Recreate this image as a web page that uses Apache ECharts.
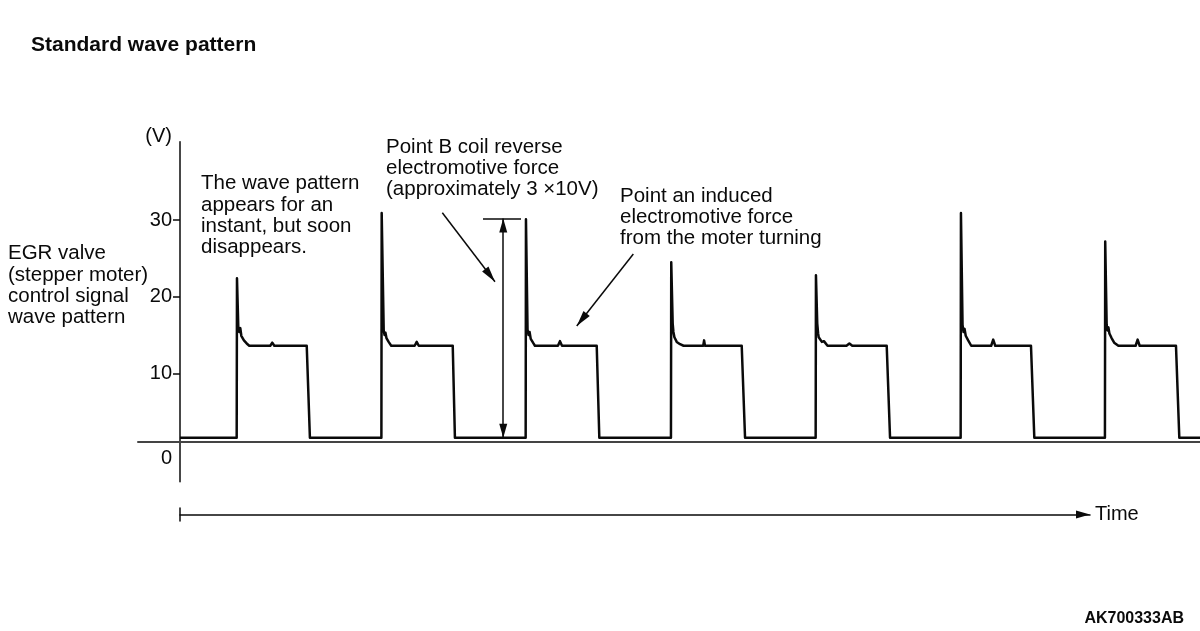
<!DOCTYPE html>
<html>
<head>
<meta charset="utf-8">
<title>Standard wave pattern</title>
<script src="https://cdn.jsdelivr.net/npm/echarts@6/dist/echarts.min.js"></script>
<style>
  html, body { margin: 0; padding: 0; background: #fff; }
  #chart { width: 1200px; height: 631px; }
</style>
</head>
<body>
<div id="chart"></div>
<script>
// time in arbitrary units (one stepper period = 100), voltage in V
var pulse1 = [[0, 1.6], [39.2, 1.6], [39.4, 22.4], [40.3, 16.1], [41.0, 15.4], [41.7, 15.9], [42.4, 14.9], [43.3, 15.1], [44.2, 14.3], [45.1, 14.5], [46.1, 13.9], [47.0, 14.1], [47.9, 13.6], [62.4, 13.6], [63.8, 14.0], [65.2, 13.6], [87.6, 13.6], [89.8, 1.6]];
var pulse2 = [[139.2, 1.6], [139.4, 30.9], [140.8, 15.6], [141.4, 15.0], [142.0, 15.3], [142.7, 14.6], [143.4, 14.8], [144.2, 14.1], [145.0, 14.2], [146.0, 13.6], [162.2, 13.6], [163.6, 14.1], [165.0, 13.6], [188.5, 13.6], [190.0, 1.6]];
var pulse3 = [[238.9, 1.6], [239.1, 30.1], [240.2, 15.7], [240.9, 15.0], [241.6, 15.4], [242.4, 14.5], [243.3, 14.7], [244.3, 13.9], [245.3, 13.6], [261.2, 13.6], [262.6, 14.2], [264.0, 13.6], [288.0, 13.6], [289.8, 1.6]];
var pulse4 = [[339.3, 1.6], [339.5, 24.5], [340.5, 16.5], [341.0, 15.4], [341.7, 14.7], [343.3, 14.1], [345.6, 13.8], [348.0, 13.6], [361.6, 13.6], [362.2, 14.3], [362.8, 13.6], [388.2, 13.6], [390.5, 1.6]];
var pulse5 = [[439.3, 1.6], [439.5, 22.8], [440.4, 16.5], [441.0, 15.2], [441.4, 14.7], [442.4, 14.9], [443.6, 14.1], [445.0, 14.2], [447.5, 13.6], [460.6, 13.6], [462.6, 13.9], [464.6, 13.6], [488.4, 13.6], [490.7, 1.6]];
var pulse6 = [[539.5, 1.6], [539.7, 30.9], [540.8, 16.3], [541.5, 15.4], [542.2, 15.8], [543.0, 14.9], [543.8, 15.0], [544.7, 14.3], [545.6, 14.4], [546.8, 13.6], [560.6, 13.6], [562.0, 14.4], [563.4, 13.6], [588.1, 13.6], [590.4, 1.6]];
var pulse7 = [[639.2, 1.6], [639.4, 27.2], [640.4, 16.3], [641.0, 15.6], [641.6, 16.0], [642.3, 15.2], [643.0, 15.4], [643.8, 14.6], [644.6, 14.8], [645.6, 14.0], [646.6, 14.1], [648.5, 13.6], [660.4, 13.6], [661.8, 14.4], [663.2, 13.6], [688.3, 13.6], [690.6, 1.6], [705, 1.6]];

var voltTicks = [0, 10, 20, 30];
var voltRange = [-4.13, 40.21];
var timeRange = [-29, 704.9];

// "3 x 10V" measurement at point B (time, volts)
var measureTime = 223.4;
var measureVolts = [1.6, 30.2];
var measureBar = [209.4, 235.7];

// callout arrows [from, to] in (time, volts)
var calloutB = [[181.3, 30.95], [217.7, 21.95]];
var calloutA = [[313.3, 25.56], [274.2, 16.17]];

var wave = pulse1.concat(pulse2, pulse3, pulse4, pulse5, pulse6, pulse7);

var FONT = '"Liberation Sans", Arial, Helvetica, sans-serif';
var INK = '#0a0a0a';

var chart = echarts.init(document.getElementById('chart'), null, { renderer: 'canvas' });

function note(x, y, text) {
  return {
    type: 'text', x: x, y: y, silent: true,
    style: { text: text, font: '20.5px ' + FONT, fill: INK, lineHeight: 21.3, align: 'left', verticalAlign: 'top' }
  };
}

var option = {
  backgroundColor: '#fff',
  animation: false,
  grid: [
    { left: 138, right: 0, top: 141.7, bottom: 149.3, containLabel: false, outerBoundsMode: 'none' },
    { left: 180, right: 110, top: 508, height: 13, containLabel: false, outerBoundsMode: 'none' }
  ],
  xAxis: [
    {
      type: 'value', gridIndex: 0, min: timeRange[0], max: timeRange[1],
      position: 'bottom', offset: -40,
      axisLine: { onZero: false, lineStyle: { color: '#444', width: 2 } },
      axisTick: { show: false }, axisLabel: { show: false }, splitLine: { show: false }
    },
    {
      type: 'value', gridIndex: 1, min: 0, max: 1,
      axisLine: {
        onZero: true, symbol: ['none', 'triangle'], symbolSize: [8, 14], symbolOffset: [0, -7],
        lineStyle: { color: INK, width: 1.5 }
      },
      axisTick: { show: false }, axisLabel: { show: false }, splitLine: { show: false },
      name: 'Time', nameLocation: 'end', nameGap: 5,
      nameTextStyle: { fontFamily: FONT, fontSize: 20, color: INK, align: 'left', verticalAlign: 'middle' }
    }
  ],
  yAxis: [
    {
      type: 'value', gridIndex: 0, min: voltRange[0], max: voltRange[1],
      position: 'left', offset: -42,
      name: '(V)', nameLocation: 'end', nameGap: 5,
      nameTextStyle: { fontFamily: FONT, fontSize: 20, color: INK, align: 'right', verticalAlign: 'middle', padding: [0, 8, 0, 0] },
      axisLine: { onZero: false, lineStyle: { color: INK, width: 1.5 } },
      axisTick: { show: true, customValues: [10, 20, 30], length: 7, lineStyle: { color: INK, width: 1.5 } },
      axisLabel: {
        customValues: voltTicks, margin: 8,
        fontFamily: FONT, fontSize: 20, color: INK,
        formatter: function (v) { return v === 0 ? '{zero|0}' : String(v); },
        rich: { zero: { fontFamily: FONT, fontSize: 20, color: INK, padding: [16, 0, 0, 0] } }
      },
      splitLine: { show: false }
    },
    {
      type: 'value', gridIndex: 1, min: -1, max: 1,
      axisLine: { onZero: false, lineStyle: { color: INK, width: 1.5 } },
      axisTick: { show: false }, axisLabel: { show: false }, splitLine: { show: false }
    }
  ],
  series: [
    {
      name: 'EGR valve control signal', type: 'line', xAxisIndex: 0, yAxisIndex: 0,
      data: wave, showSymbol: false, symbol: 'none',
      lineStyle: { color: INK, width: 2.5, join: 'round' },
      silent: true
    },
    {
      type: 'line', xAxisIndex: 0, yAxisIndex: 0, data: [], silent: true,
      markLine: {
        silent: true, animation: false,
        symbol: ['triangle', 'triangle'], symbolSize: [8, 14], symbolOffset: [[0, 7], [0, 7]],
        label: { show: false },
        lineStyle: { color: INK, width: 1.5, type: 'solid' },
        data: [[{ coord: [measureTime, measureVolts[0]] }, { coord: [measureTime, measureVolts[1]] }]]
      }
    },
    {
      type: 'line', xAxisIndex: 0, yAxisIndex: 0, data: [], silent: true,
      markLine: {
        silent: true, animation: false, symbol: 'none',
        label: { show: false },
        lineStyle: { color: INK, width: 1.5, type: 'solid' },
        data: [[{ coord: [measureBar[0], measureVolts[1]] }, { coord: [measureBar[1], measureVolts[1]] }]]
      }
    },
    {
      type: 'line', xAxisIndex: 0, yAxisIndex: 0, data: [], silent: true,
      markLine: {
        silent: true, animation: false,
        symbol: ['none', 'triangle'], symbolSize: [8, 16], symbolOffset: [[0, 0], [0, 8]],
        label: { show: false },
        lineStyle: { color: INK, width: 1.5, type: 'solid' },
        data: [
          [{ coord: calloutB[0] }, { coord: calloutB[1] }],
          [{ coord: calloutA[0] }, { coord: calloutA[1] }]
        ]
      }
    }
  ],
  graphic: [
    { type: 'text', x: 31, y: 45, silent: true,
      style: { text: 'Standard wave pattern', font: 'bold 21px ' + FONT, fill: INK, align: 'left', verticalAlign: 'middle' } },
    { type: 'text', x: 1184, y: 619, silent: true,
      style: { text: 'AK700333AB', font: 'bold 16px ' + FONT, fill: INK, align: 'right', verticalAlign: 'middle' } },
    note(8, 243, 'EGR valve\n(stepper moter)\ncontrol signal\nwave pattern'),
    note(201, 173, 'The wave pattern\nappears for an\ninstant, but soon\ndisappears.'),
    note(386, 136.5, 'Point B coil reverse\nelectromotive force\n(approximately 3 \u00d710V)'),
    note(620, 185.5, 'Point an induced\nelectromotive force\nfrom the moter turning')
  ]
};

chart.setOption(option);
</script>
</body>
</html>
